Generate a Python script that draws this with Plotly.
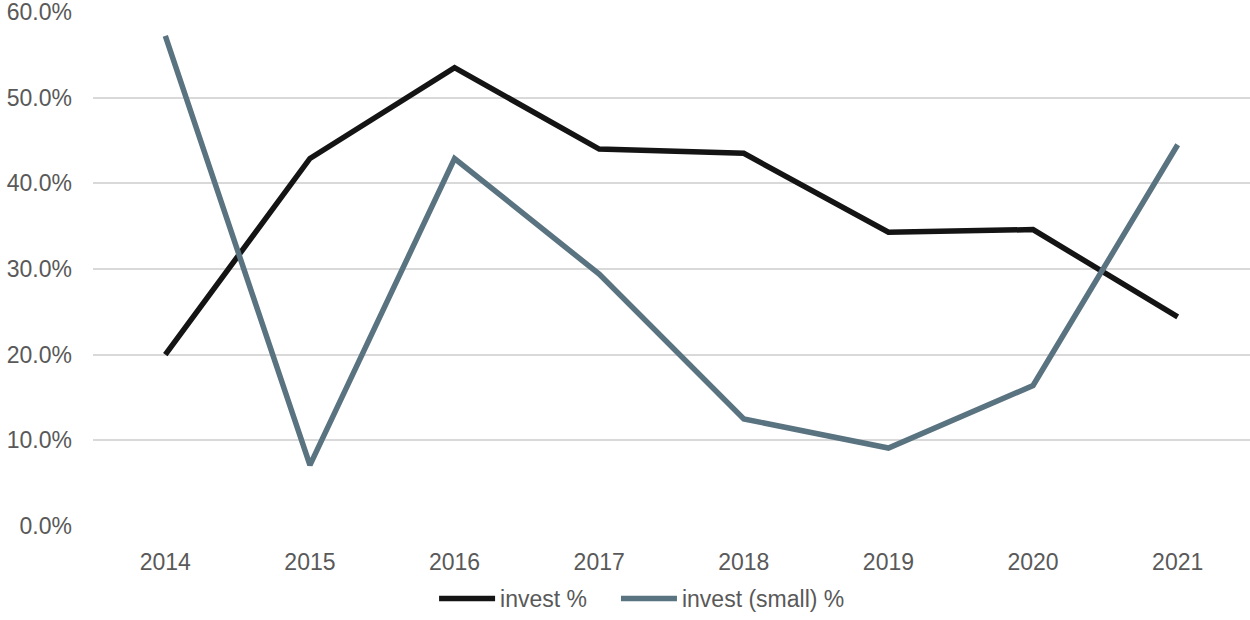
import plotly.graph_objects as go

years = ["2014", "2015", "2016", "2017", "2018", "2019", "2020", "2021"]
invest = [0.200, 0.429, 0.535, 0.440, 0.435, 0.343, 0.346, 0.244]
invest_small = [0.572, 0.071, 0.429, 0.294, 0.125, 0.091, 0.164, 0.445]
y_ticks = [0, 0.1, 0.2, 0.3, 0.4, 0.5, 0.6]

fig = go.Figure()
fig.add_trace(go.Scatter(x=years, y=invest, mode="lines", name="invest %",
                         line=dict(color="#141414", width=5.5), legend="legend"))
fig.add_trace(go.Scatter(x=years, y=invest_small, mode="lines", name="invest (small) %",
                         line=dict(color="#5a7380", width=5.5), legend="legend2"))

leg_common = dict(orientation="h", y=-0.142, yanchor="middle", xanchor="left",
                  font=dict(size=23, color="#595959"), itemwidth=56,
                  bgcolor="rgba(0,0,0,0)")

fig.update_layout(
    width=1250, height=620,
    margin=dict(l=93, r=0, t=12, b=93),
    paper_bgcolor="white", plot_bgcolor="white",
    font=dict(family="Liberation Sans, Arial, sans-serif", size=23, color="#595959"),
    showlegend=True,
    legend=dict(x=0.2948, **leg_common),
    legend2=dict(x=0.4520, **leg_common),
    xaxis=dict(type="category", range=[-0.5, 7.5], showgrid=False, showline=False,
               ticks="", ticklabelstandoff=20, automargin=False),
    yaxis=dict(range=[0, 0.6], tickvals=y_ticks, tickformat=".1%",
               gridcolor="#d9d9d9", gridwidth=1.5, zeroline=False, showline=False,
               ticks="", ticklabelstandoff=20, ticklabeloverflow="allow",
               automargin=False),
)
fig.write_html("out.html", post_script="document.body.style.margin='0';",
               config={"displayModeBar": False})
